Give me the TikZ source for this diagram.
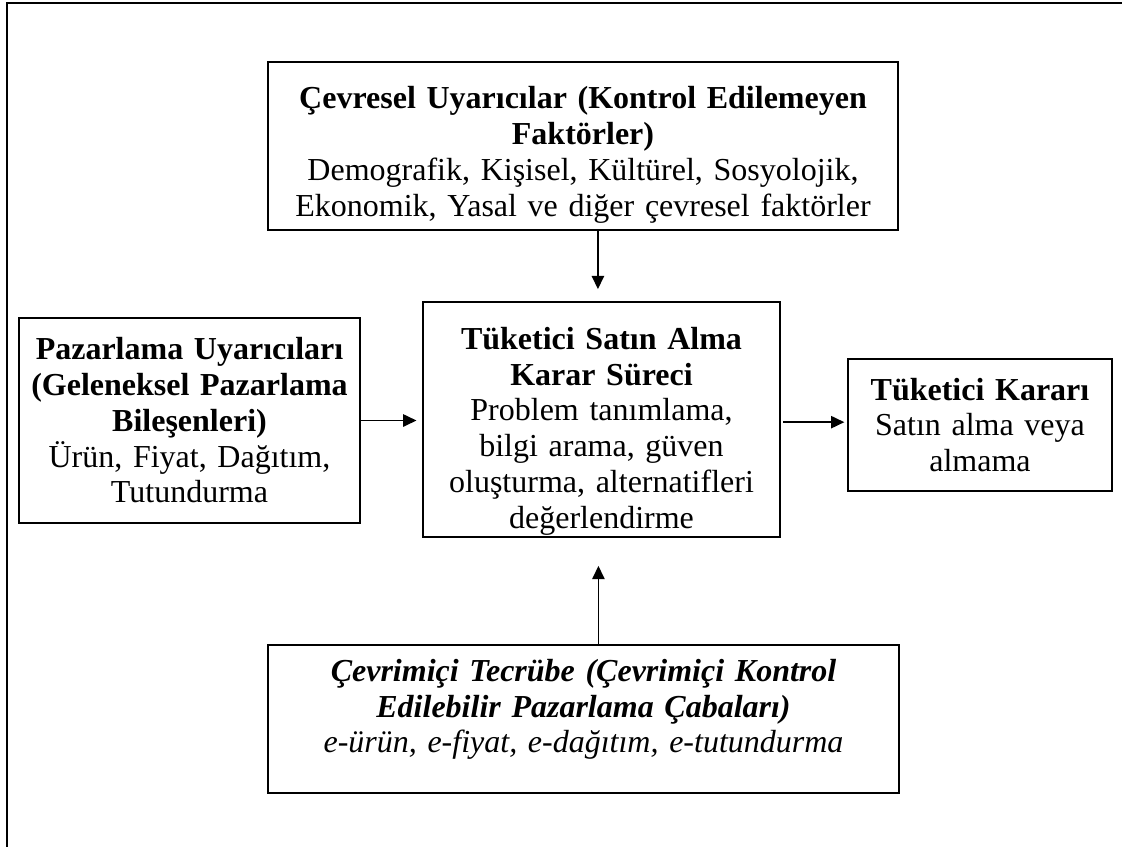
\documentclass[tikz,border=0pt]{standalone}
\usepackage{fontspec}
\setmainfont{Liberation Serif}
\usetikzlibrary{arrows.meta, positioning}
\tikzstyle{block} = [rectangle, draw=black, line width=0.75pt, align=center, inner xsep=4pt, inner ysep=0pt, font=\fontsize{12}{13.4}\selectfont]
\tikzstyle{arrow} = [line width=0.7pt, -{Triangle[length=5pt, width=4.6pt]}]

\begin{document}
\begin{tikzpicture}[x=0.375pt, y=-0.375pt]

    \useasboundingbox (0,0) rectangle (1122,847);
    % page frame (only top and left edges are visible)
    \draw [line width=1.1pt] (1122,3) -- (7,3) -- (7,847);

    \node (env) [block, text width=228pt, minimum height=63pt] at (583,146)
        {\rule{0pt}{15pt}\textbf{Çevresel Uyarıcılar (Kontrol Edilemeyen}\\
         \textbf{Faktörler)}\\
         Demografik, Kişisel, Kültürel, Sosyolojik,\\
         Ekonomik, Yasal ve diğer çevresel faktörler};
    \node (market) [block, text width=120pt, minimum height=77pt] at (189.5,420.5)
        {\textbf{Pazarlama Uyarıcıları}\\
         \textbf{(Geleneksel Pazarlama}\\
         \textbf{Bileşenleri)}\\
         Ürün, Fiyat, Dağıtım,\\
         Tutundurma};
    \node (process) [block, text width=126pt, minimum height=88pt] at (601.5,419.5)
        {\rule{0pt}{17pt}\textbf{Tüketici Satın Alma}\\
         \textbf{Karar Süreci}\\
         Problem tanımlama,\\
         bilgi arama, güven\\
         oluşturma, alternatifleri\\
         değerlendirme};
    \node (decision) [block, text width=91pt, minimum height=49.5pt] at (980,425)
        {\textbf{Tüketici Kararı}\\
         Satın alma veya\\
         almama};
    \node (online) [block, text width=228.6pt, minimum height=55.5pt] at (583.5,719)
        {\textit{\textbf{Çevrimiçi Tecrübe (Çevrimiçi Kontrol}}\\
         \textit{\textbf{Edilebilir Pazarlama Çabaları)}}\\
         \textit{e-ürün, e-fiyat, e-dağıtım, e-tutundurma}\rule[-9.8pt]{0pt}{0pt}};

    \draw [arrow, shorten >=4.5pt] ([xshift=5.6pt]env.south) -- ([xshift=5.6pt]env.south |- process.north);
    \draw [arrow, shorten >=2pt] (market.east) -- (market.east -| process.west);
    \draw [arrow, shorten <=0.8pt, shorten >=1pt] ([yshift=-1pt]process.east) -- ([yshift=-1pt]process.east -| decision.west);
    \draw [arrow, shorten >=10.5pt] ([xshift=5.6pt]online.north) -- ([xshift=5.6pt]online.north |- process.south);

\end{tikzpicture}
\end{document}
